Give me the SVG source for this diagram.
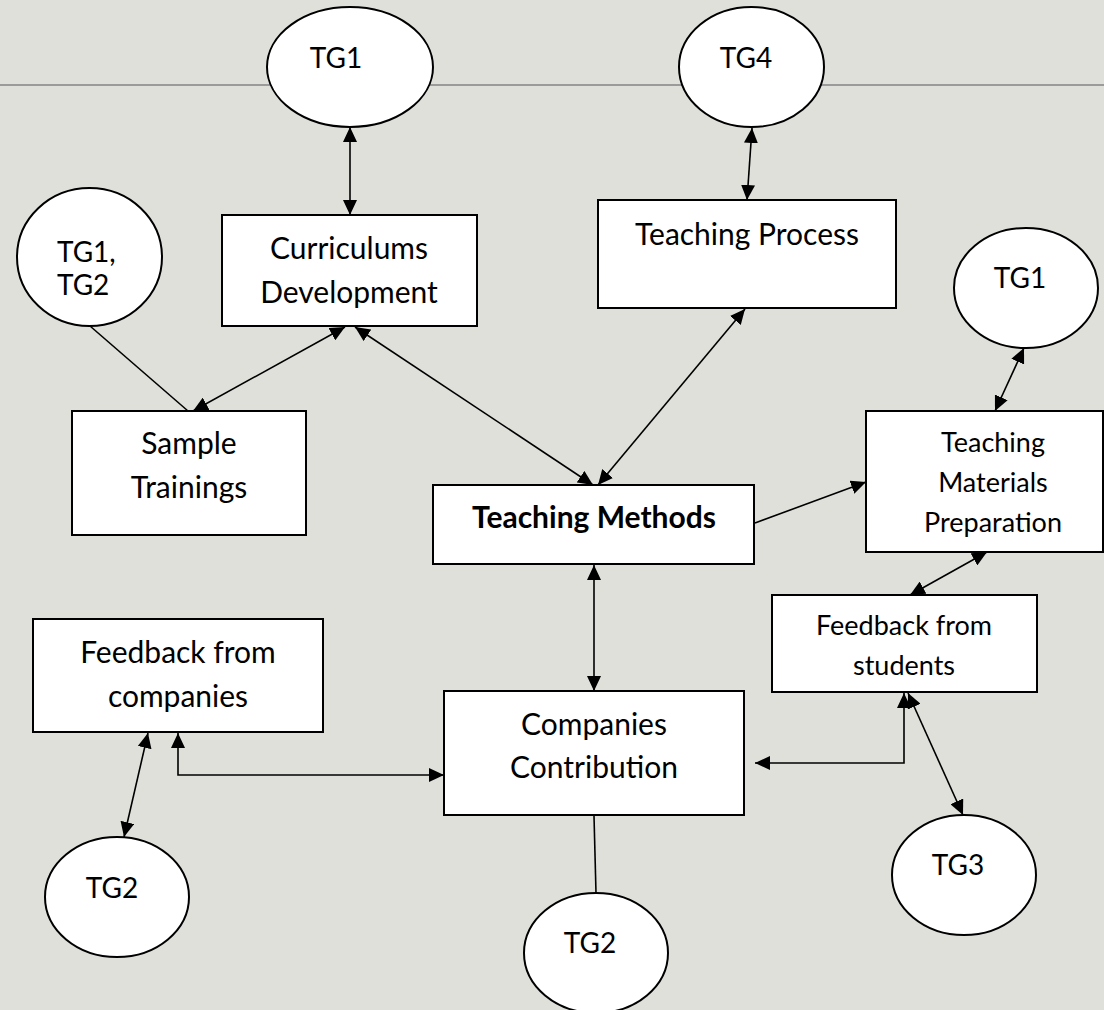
<svg xmlns="http://www.w3.org/2000/svg" width="1104" height="1010" viewBox="0 0 1104 1010">
  <defs>
    <style>
      .box { fill: #ffffff; stroke: #000000; stroke-width: 2; }
      .oval { fill: #ffffff; stroke: #000000; stroke-width: 2; }
      .lbl { font-family: Lato, "Liberation Sans", sans-serif; font-size: 30px; fill: #000000; text-anchor: middle; }
      .tg { font-size: 28px; }
      .sm { font-size: 27px; }
      .bold { font-weight: bold; }
      .edge { fill: none; stroke: #000000; stroke-width: 1.6; }
      .rule { stroke: #9b9b9b; stroke-width: 2; }
    </style>
    <marker id="head" viewBox="0 0 15 14" refX="15" refY="7" markerWidth="15" markerHeight="14" markerUnits="userSpaceOnUse" orient="auto-start-reverse">
      <path d="M0,0 L15,7 L0,14 z" fill="#000000"/>
    </marker>
  </defs>

  <!-- page background and header rule -->
  <rect x="0" y="0" width="1104" height="1010" fill="#e0e0db"/>
  <line class="rule" x1="0" y1="85" x2="1104" y2="85"/>

  <!-- connectors -->
  <g id="connectors">
    <line class="edge" x1="350" y1="127" x2="350" y2="215" marker-start="url(#head)" marker-end="url(#head)"/>
    <line class="edge" x1="752" y1="128" x2="747" y2="200" marker-start="url(#head)" marker-end="url(#head)"/>
    <line class="edge" x1="90" y1="326" x2="188" y2="411"/>
    <line class="edge" x1="345" y1="327" x2="193" y2="411" marker-start="url(#head)" marker-end="url(#head)"/>
    <line class="edge" x1="355" y1="327" x2="593" y2="485" marker-start="url(#head)" marker-end="url(#head)"/>
    <line class="edge" x1="745" y1="309" x2="598" y2="485" marker-start="url(#head)" marker-end="url(#head)"/>
    <line class="edge" x1="755" y1="523" x2="866" y2="482" marker-end="url(#head)"/>
    <line class="edge" x1="1024" y1="348" x2="995" y2="411" marker-start="url(#head)" marker-end="url(#head)"/>
    <line class="edge" x1="987" y1="552" x2="910" y2="595" marker-start="url(#head)" marker-end="url(#head)"/>
    <line class="edge" x1="594" y1="565" x2="594" y2="691" marker-start="url(#head)" marker-end="url(#head)"/>
    <line class="edge" x1="148" y1="733" x2="124" y2="837" marker-start="url(#head)" marker-end="url(#head)"/>
    <path class="edge" d="M178,733 V775 H444" marker-start="url(#head)" marker-end="url(#head)"/>
    <path class="edge" d="M904,693 V763 H755" marker-start="url(#head)" marker-end="url(#head)"/>
    <line class="edge" x1="908" y1="693" x2="963" y2="815" marker-start="url(#head)" marker-end="url(#head)"/>
    <line class="edge" x1="594" y1="816" x2="596" y2="893"/>
  </g>

  <!-- target group ovals -->
  <g id="tg1-top">
    <ellipse class="oval" cx="350" cy="67" rx="83" ry="60"/>
    <text class="lbl tg" x="336" y="68">TG1</text>
  </g>
  <g id="tg4">
    <ellipse class="oval" cx="751.5" cy="67" rx="72.5" ry="60"/>
    <text class="lbl tg" x="746" y="68">TG4</text>
  </g>
  <g id="tg1-tg2">
    <ellipse class="oval" cx="89.5" cy="257" rx="72.5" ry="69"/>
    <text class="lbl tg" x="57" y="262" style="text-anchor:start">TG1,</text>
    <text class="lbl tg" x="57" y="295" style="text-anchor:start">TG2</text>
  </g>
  <g id="tg1-right">
    <ellipse class="oval" cx="1026" cy="288" rx="72" ry="60"/>
    <text class="lbl tg" x="1020" y="288">TG1</text>
  </g>
  <g id="tg2-left">
    <ellipse class="oval" cx="117" cy="897" rx="72" ry="60"/>
    <text class="lbl tg" x="112" y="898">TG2</text>
  </g>
  <g id="tg2-bottom">
    <ellipse class="oval" cx="596" cy="953" rx="72" ry="60"/>
    <text class="lbl tg" x="590" y="953">TG2</text>
  </g>
  <g id="tg3">
    <ellipse class="oval" cx="964" cy="875" rx="72" ry="60"/>
    <text class="lbl tg" x="958" y="875">TG3</text>
  </g>

  <!-- activity boxes -->
  <g id="curriculums">
    <rect class="box" x="222" y="215" width="255" height="111"/>
    <text class="lbl" x="349" y="259">Curriculums</text>
    <text class="lbl" x="349" y="303">Development</text>
  </g>
  <g id="teaching-process">
    <rect class="box" x="598" y="200" width="298" height="108"/>
    <text class="lbl" x="747" y="245">Teaching Process</text>
  </g>
  <g id="sample-trainings">
    <rect class="box" x="72" y="411" width="234" height="124"/>
    <text class="lbl" x="189" y="454">Sample</text>
    <text class="lbl" x="189" y="498">Trainings</text>
  </g>
  <g id="teaching-methods">
    <rect class="box" x="433" y="485" width="321" height="79"/>
    <text class="lbl bold" x="594" y="528">Teaching Methods</text>
  </g>
  <g id="materials">
    <rect class="box" x="866" y="411" width="237" height="141"/>
    <text class="lbl sm" x="993" y="452">Teaching</text>
    <text class="lbl sm" x="993" y="492">Materials</text>
    <text class="lbl sm" x="993" y="532">Preparation</text>
  </g>
  <g id="feedback-students">
    <rect class="box" x="772" y="595" width="265" height="97"/>
    <text class="lbl sm" x="904" y="635">Feedback from</text>
    <text class="lbl sm" x="904" y="675">students</text>
  </g>
  <g id="feedback-companies">
    <rect class="box" x="33" y="619" width="290" height="113"/>
    <text class="lbl" x="178" y="663">Feedback from</text>
    <text class="lbl" x="178" y="707">companies</text>
  </g>
  <g id="companies-contribution">
    <rect class="box" x="444" y="691" width="300" height="124"/>
    <text class="lbl" x="594" y="735">Companies</text>
    <text class="lbl" x="594" y="778">Contribution</text>
  </g>
</svg>
